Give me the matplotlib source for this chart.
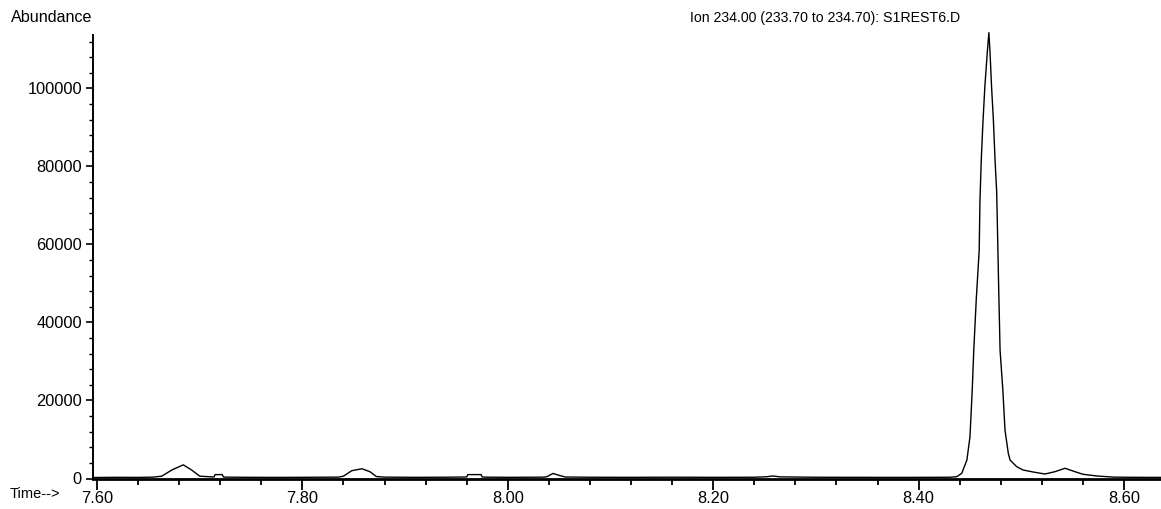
import numpy as np
import matplotlib.pyplot as plt
from matplotlib.ticker import MultipleLocator, FixedLocator

# Ion chromatogram, m/z 234 extracted from S1REST6.D

time_min = [7.596, 7.620, 7.640, 7.655, 7.663, 7.673, 7.684, 7.692, 7.700,
            7.712, 7.714, 7.715, 7.722, 7.723, 7.725, 7.750, 7.780, 7.810,
            7.835, 7.840, 7.848, 7.858, 7.866, 7.872, 7.880, 7.910, 7.940,
            7.958, 7.960, 7.961, 7.974, 7.975, 7.977, 8.000, 8.020, 8.035,
            8.038, 8.044, 8.050, 8.056, 8.080, 8.120, 8.160, 8.200, 8.240,
            8.252, 8.258, 8.265, 8.300, 8.340, 8.380, 8.410, 8.430, 8.437,
            8.442, 8.447, 8.450, 8.4522, 8.4537, 8.4561, 8.4590, 8.4597,
            8.4610, 8.4626, 8.4645, 8.4669, 8.4684, 8.4695, 8.4710, 8.4728,
            8.4744, 8.4760, 8.4772, 8.4780, 8.4793, 8.4820, 8.4841, 8.4873,
            8.4890, 8.4919, 8.4955, 8.5017, 8.5114, 8.5230, 8.5326, 8.5426,
            8.5523, 8.5600, 8.5737, 8.5900, 8.6100, 8.6360]

abundance = [250, 300, 280, 350, 600, 2200, 3500, 2200, 600,
             400, 400, 1000, 1000, 400, 350, 300, 280, 320,
             350, 600, 2000, 2500, 1700, 500, 350, 300, 330,
             380, 400, 1000, 1000, 400, 350, 300, 320, 350,
             450, 1300, 800, 380, 320, 300, 330, 300, 320,
             450, 650, 420, 320, 300, 280, 300, 320, 460,
             1330, 4740, 10700, 22700, 32900, 45800, 58600, 71000,
             81700, 91200, 100500, 109400, 114300, 109400, 100500, 91900,
             81700, 73500, 58600, 48300, 32900, 22700, 12400, 6500,
             4740, 3970, 3030, 2180, 1670, 1150, 1740, 2620,
             1740, 1080, 640, 350, 300, 280]

x_major = [7.60, 7.80, 8.00, 8.20, 8.40, 8.60]
x_labels = ['7.60', '7.80', '8.00', '8.20', '8.40', '8.60']
y_major = [0, 20000, 40000, 60000, 80000, 100000]

plt.rcParams['font.family'] = ['Liberation Sans', 'DejaVu Sans']

fig = plt.figure(figsize=(11.61, 5.09), dpi=100, facecolor='w')
ax = fig.add_axes([93 / 1161, 30.5 / 509, 1068 / 1161, 443.5 / 509])

ax.plot(time_min, abundance, color='k', linewidth=1.0, clip_on=False)

ax.set_xlim(7.5961, 8.636)
ax.set_ylim(0, 113700)

# Assi in stile ChemStation
for s in ('top', 'right'):
    ax.spines[s].set_visible(False)
ax.spines['left'].set_linewidth(1.4)
ax.spines['bottom'].set_linewidth(2.0)

ax.xaxis.set_major_locator(FixedLocator(x_major))
ax.set_xticklabels(x_labels)
ax.xaxis.set_minor_locator(MultipleLocator(0.04))
ax.yaxis.set_major_locator(FixedLocator(y_major))
ax.yaxis.set_minor_locator(MultipleLocator(4000))

ax.tick_params(axis='x', which='major', direction='out', length=8, width=1.3,
               labelsize=11.8, pad=1)
ax.tick_params(axis='x', which='minor', direction='out', length=4, width=1.3)
ax.tick_params(axis='y', which='major', direction='out', length=5, width=1.2,
               labelsize=11.8, pad=3)
ax.tick_params(axis='y', which='minor', direction='out', length=3, width=1.0)

# Etichette
fig.text(11 / 1161, 1 - 18 / 509, 'Abundance', fontsize=11.6,
         ha='left', va='center')
fig.text(690 / 1161, 1 - 18 / 509, 'Ion 234.00 (233.70 to 234.70): S1REST6.D',
         fontsize=10.2, ha='left', va='center')
fig.text(10 / 1161, 1 - 494 / 509, 'Time-->', fontsize=10.5,
         ha='left', va='center')

fig.savefig('out.png', dpi=100)
